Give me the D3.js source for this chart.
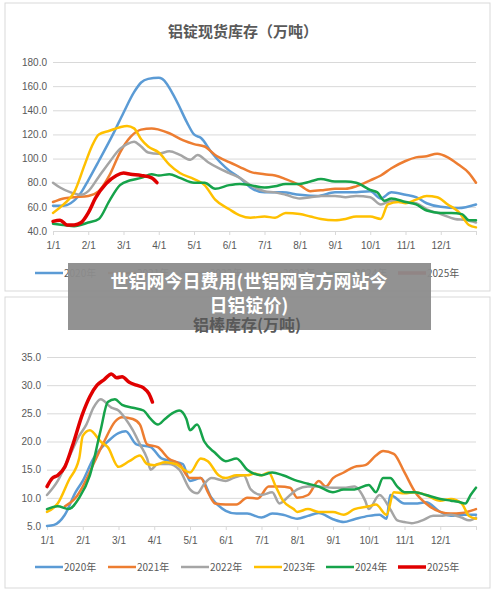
<!DOCTYPE html><html><head><meta charset="utf-8"><script src="https://cdn.jsdelivr.net/npm/d3@7"></script>
<style>body{margin:0;background:#fff;font-family:"Noto Sans CJK SC","Noto Sans",sans-serif}</style></head><body><svg id="c" width="500" height="593"></svg>
<script>
const months=["1/1","2/1","3/1","4/1","5/1","6/1","7/1","8/1","9/1","10/1","11/1","12/1"];
const seriesNames=["2020年","2021年","2022年","2023年","2024年","2025年"];
const colors=["#5b9bd5","#ed7d31","#a5a5a5","#ffc000","#16a34a","#e00000"];
const topTicks=[40,60,80,100,120,140,160,180];
const botTicks=[5,10,15,20,25,30,35];
// [month offset, value]
const ingot2020=[[0,61],[0.3,61],[0.5,63],[0.8,72],[1,82],[1.3,98],[1.7,120],[2,138],[2.3,155],[2.5,163],[2.7,166],[3,167],[3.1,166],[3.5,148],[3.8,130],[4,120],[4.2,117],[4.5,105],[5,90],[5.3,84],[5.6,76],[6,72],[6.5,72],[7,70],[7.5,69],[8,72],[8.5,72],[9,73],[9.3,67],[9.6,72],[10,70],[10.3,68],[10.6,63],[11,60],[11.5,59],[12,62]];
const ingot2021=[[0,64],[0.3,67],[0.6,68],[1,69],[1.3,73],[1.6,86],[1.9,105],[2.2,118],[2.5,124],[2.8,125],[3,124],[3.3,121],[3.7,115],[4,112],[4.3,110],[4.6,103],[5,97],[5.3,93],[5.6,89],[6,87],[6.3,86],[6.6,83],[7,78],[7.3,73],[7.7,74],[8,75],[8.3,75],[8.6,77],[9,82],[9.3,86],[9.6,92],[10,98],[10.3,101],[10.6,102],[10.9,104],[11.2,101],[11.5,95],[11.8,88],[12,80]];
const ingot2022=[[0,80],[0.2,76],[0.5,72],[0.8,70],[1,73],[1.3,85],[1.6,97],[1.9,108],[2.1,112],[2.3,114],[2.5,110],[2.7,105],[3,104],[3.3,106],[3.6,103],[3.9,99],[4.1,103],[4.4,97],[4.7,92],[5,88],[5.3,84],[5.6,78],[6,73],[6.3,72],[6.6,70],[7,67],[7.3,68],[7.6,69],[8,69],[8.3,68],[8.6,69],[9,68],[9.3,62],[9.6,65],[10,64],[10.3,63],[10.6,58],[11,54],[11.4,50],[11.7,49],[12,47]];
const ingot2023=[[0,55],[0.3,62],[0.6,72],[0.9,95],[1.1,110],[1.3,120],[1.6,123],[1.9,126],[2.1,127],[2.3,125],[2.5,116],[2.7,110],[3,105],[3.3,95],[3.6,88],[4,83],[4.3,78],[4.6,66],[5,58],[5.3,53],[5.6,51],[6,52],[6.3,51],[6.6,55],[7,54],[7.3,52],[7.6,50],[8,49],[8.3,50],[8.6,52],[9,52],[9.3,50],[9.5,62],[9.8,64],[10,63],[10.3,66],[10.6,69],[10.9,68],[11.2,62],[11.5,56],[11.8,45],[12,43]];
const ingot2024=[[0,46],[0.3,45],[0.6,44],[1,47],[1.3,50],[1.6,65],[1.9,78],[2.2,82],[2.5,84],[2.8,87],[3,86],[3.3,87],[3.6,84],[4,80],[4.3,80],[4.6,75],[5,78],[5.3,79],[5.6,78],[6,76],[6.3,77],[6.6,79],[7,79],[7.3,81],[7.6,83],[8,81],[8.3,81],[8.6,80],[9,74],[9.2,72],[9.4,65],[9.6,67],[10,64],[10.3,62],[10.6,57],[11,55],[11.3,55],[11.6,54],[11.8,49],[12,49]];
const ingot2025=[[0,48],[0.2,49],[0.4,45],[0.6,45],[0.8,47],[1,55],[1.2,67],[1.5,79],[1.8,86],[2,88],[2.2,87],[2.5,86],[2.8,84],[2.95,80]];
const rod2020=[[0,5],[0.2,5.2],[0.5,7],[0.8,11],[1,13],[1.3,17],[1.7,20],[2,21.5],[2.2,21.8],[2.5,19.5],[2.9,19],[3.2,17],[3.5,16.5],[3.8,16],[4,13],[4.3,13.5],[4.6,10],[5,7.7],[5.3,7.2],[5.6,7.2],[6,6.5],[6.3,7.2],[6.6,7],[7,6.3],[7.3,6.8],[7.6,7.3],[8,6.2],[8.3,5.7],[8.6,6.2],[9,6.8],[9.3,7],[9.5,6.3],[9.6,10.5],[10,9],[10.3,9],[10.6,9.2],[11,7.5],[11.3,6.8],[11.6,7],[12,7]];
const rod2021=[[0.5,8.5],[0.8,10],[1,12],[1.3,16],[1.6,20],[1.9,23.5],[2.1,24.3],[2.4,24],[2.6,23],[2.8,19.5],[3.1,19],[3.4,17],[3.7,16],[4,13.5],[4.3,13.5],[4.5,11],[4.7,9],[5,8.8],[5.3,8.8],[5.6,10],[5.9,9.9],[6.2,12],[6.5,12],[6.8,11.8],[7,10],[7.3,10.5],[7.6,13],[7.8,12],[8,13.5],[8.3,14.5],[8.6,15.5],[8.9,15.8],[9.2,17.5],[9.4,18.3],[9.7,17.8],[10,14.5],[10.3,11],[10.6,9],[11,7.5],[11.3,7.2],[11.6,7.3],[12,8]];
const rod2022=[[0,10.5],[0.3,13],[0.6,17],[0.9,21],[1.1,23],[1.3,26],[1.5,27.5],[1.8,26],[2,25.5],[2.2,24],[2.4,22],[2.6,19.5],[2.8,17],[2.9,15],[3.1,16],[3.4,16],[3.7,15],[4,11.5],[4.2,10.8],[4.4,12.5],[4.6,13.5],[5,13],[5.2,13.5],[5.5,14],[5.7,11.5],[6,10.5],[6.3,11],[6.5,9],[6.8,10.5],[7,11.5],[7.3,12],[7.6,12],[8,11.8],[8.3,11.8],[8.6,12],[8.9,9.5],[9,8],[9.3,10.5],[9.6,8],[9.8,6],[10,5.7],[10.2,5.5],[10.5,6],[10.8,6.8],[11,6.8],[11.3,7],[11.6,6.5],[11.8,6],[12,6.5]];
const rod2023=[[0,7.5],[0.3,9],[0.6,13],[0.9,17],[1,21],[1.2,22],[1.5,20],[1.7,19],[2,15.5],[2.3,16.5],[2.6,17.5],[2.8,16],[3,15.8],[3.3,16.3],[3.6,16],[4,14.5],[4.3,17],[4.5,16.5],[4.8,14],[5,13.5],[5.3,14],[5.6,14],[5.8,14.3],[6,14],[6.2,14.5],[6.4,12],[6.6,9.5],[6.9,8],[7,7.5],[7.3,8],[7.6,7.5],[8,7.5],[8.3,7],[8.6,8],[9,8.5],[9.2,8.8],[9.5,7],[9.7,11],[10,10.8],[10.3,11],[10.6,10.5],[11,9.5],[11.3,9.8],[11.6,9],[11.8,6.8],[12,6.3]];
const rod2024=[[0,8],[0.3,8.5],[0.6,8],[0.9,10],[1.2,14],[1.5,22],[1.7,27],[1.9,27.5],[2.1,26.5],[2.4,26],[2.7,25.5],[2.9,24],[3.1,23],[3.3,24],[3.5,25],[3.7,25.5],[3.9,24],[4,22],[4.2,23],[4.4,20],[4.7,18],[5,16.5],[5.3,17],[5.6,15],[6,14],[6.3,14.5],[6.6,14],[7,13],[7.3,12.5],[7.6,12],[8,11],[8.3,11.5],[8.6,11.5],[9,12.3],[9.2,11],[9.4,13.5],[9.6,13.5],[9.8,12],[10,11],[10.3,11],[10.6,10.5],[11,9.8],[11.3,9.5],[11.5,9.3],[11.7,9],[11.85,10.5],[12,11.8]];
const rod2025=[[0,12],[0.15,13.5],[0.3,14],[0.5,15.5],[0.7,19],[1,25],[1.2,28],[1.4,30],[1.6,31],[1.8,32],[1.95,31.3],[2.1,31.5],[2.3,30.5],[2.5,30],[2.7,29.5],[2.85,28.5],[2.95,27]];

const svg=d3.select("#c");
function panel(o){
  svg.append("rect").attr("x",o.bx).attr("y",o.by).attr("width",o.bw).attr("height",o.bh).attr("fill","#fff").attr("stroke","#d9d9d9");
  if(!o.late) svg.append("text").attr("x",o.tx).attr("y",o.ty).attr("text-anchor","middle").attr("font-size",15).attr("font-weight","bold").attr("fill","#595959").text(o.title);
  const x=d3.scaleLinear().domain([0,12]).range([o.x0,o.x1]);
  const y=d3.scaleLinear().domain(o.yd).range([o.y0,o.y1]);
  const g=svg.append("g");
  g.append("g").attr("transform",`translate(${o.x0},0)`).call(d3.axisLeft(y).tickValues(o.ticks).tickSize(-(o.x1-o.x0)).tickFormat(d3.format(".1f")))
   .call(a=>{a.select(".domain").remove();a.selectAll("line").attr("stroke","#d9d9d9");a.selectAll("text").attr("fill","#595959").attr("font-size",10).attr("x",-6).attr("font-family","Liberation Sans, sans-serif");});
  g.append("g").attr("transform",`translate(0,${o.y0})`).call(d3.axisBottom(x).tickValues(d3.range(13)).tickSize(4).tickFormat(i=>months[i]||""))
   .call(a=>{a.select(".domain").attr("stroke","#d9d9d9");a.selectAll("line").attr("stroke","#d9d9d9");a.selectAll("text").attr("fill","#595959").attr("font-size",10).attr("dy","1.1em").attr("font-family","Liberation Sans, sans-serif");});
  const line=d3.line().x(d=>x(d[0])).y(d=>y(d[1])).curve(d3.curveMonotoneX);
  o.data.forEach((s,i)=>g.append("path").attr("d",line(s)).attr("fill","none").attr("stroke",colors[i]).attr("stroke-width",i==5?3.5:2.5).attr("stroke-linejoin","round").attr("stroke-linecap","round"));
  const lg=svg.append("g");
  const xs=[35,108,181,254,326,398];
  seriesNames.forEach((n,i)=>{
    lg.append("line").attr("x1",xs[i]).attr("x2",xs[i]+28).attr("y1",o.ly).attr("y2",o.ly).attr("stroke",colors[i]).attr("stroke-width",i==5?3.5:2.5);
    lg.append("text").attr("x",xs[i]+29).attr("y",o.ly+4).attr("font-size",10).attr("fill","#595959").text(n);
  });
}
panel({bx:5,by:3,bw:485,bh:288,tx:243,ty:37,title:"铝锭现货库存（万吨）",x0:53,x1:476,y0:231,y1:62,yd:[40,180],ticks:topTicks,ly:273,
  data:[ingot2020,ingot2021,ingot2022,ingot2023,ingot2024,ingot2025]});
panel({bx:5,by:297,bw:485,bh:291,late:true,x0:47,x1:476,y0:526,y1:357,yd:[5,35],ticks:botTicks,ly:567,
  data:[rod2020,rod2021,rod2022,rod2023,rod2024,rod2025]});
// overlay banner
svg.append("rect").attr("x",68).attr("y",263).attr("width",363).attr("height",67).attr("fill","#8c8c8c").attr("opacity",0.95);
svg.append("text").attr("x",247).attr("y",331).attr("text-anchor","middle").attr("font-size",16).attr("font-weight","bold").attr("fill","#595959").text("铝棒库存(万吨)");
svg.append("text").attr("x",249).attr("y",288).attr("text-anchor","middle").attr("fill","#fff").attr("font-size",18).attr("font-weight","bold").text("世铝网今日费用(世铝网官方网站今");
svg.append("text").attr("x",249).attr("y",312).attr("text-anchor","middle").attr("fill","#fff").attr("font-size",18).attr("font-weight","bold").text("日铝锭价)");
</script></body></html>
